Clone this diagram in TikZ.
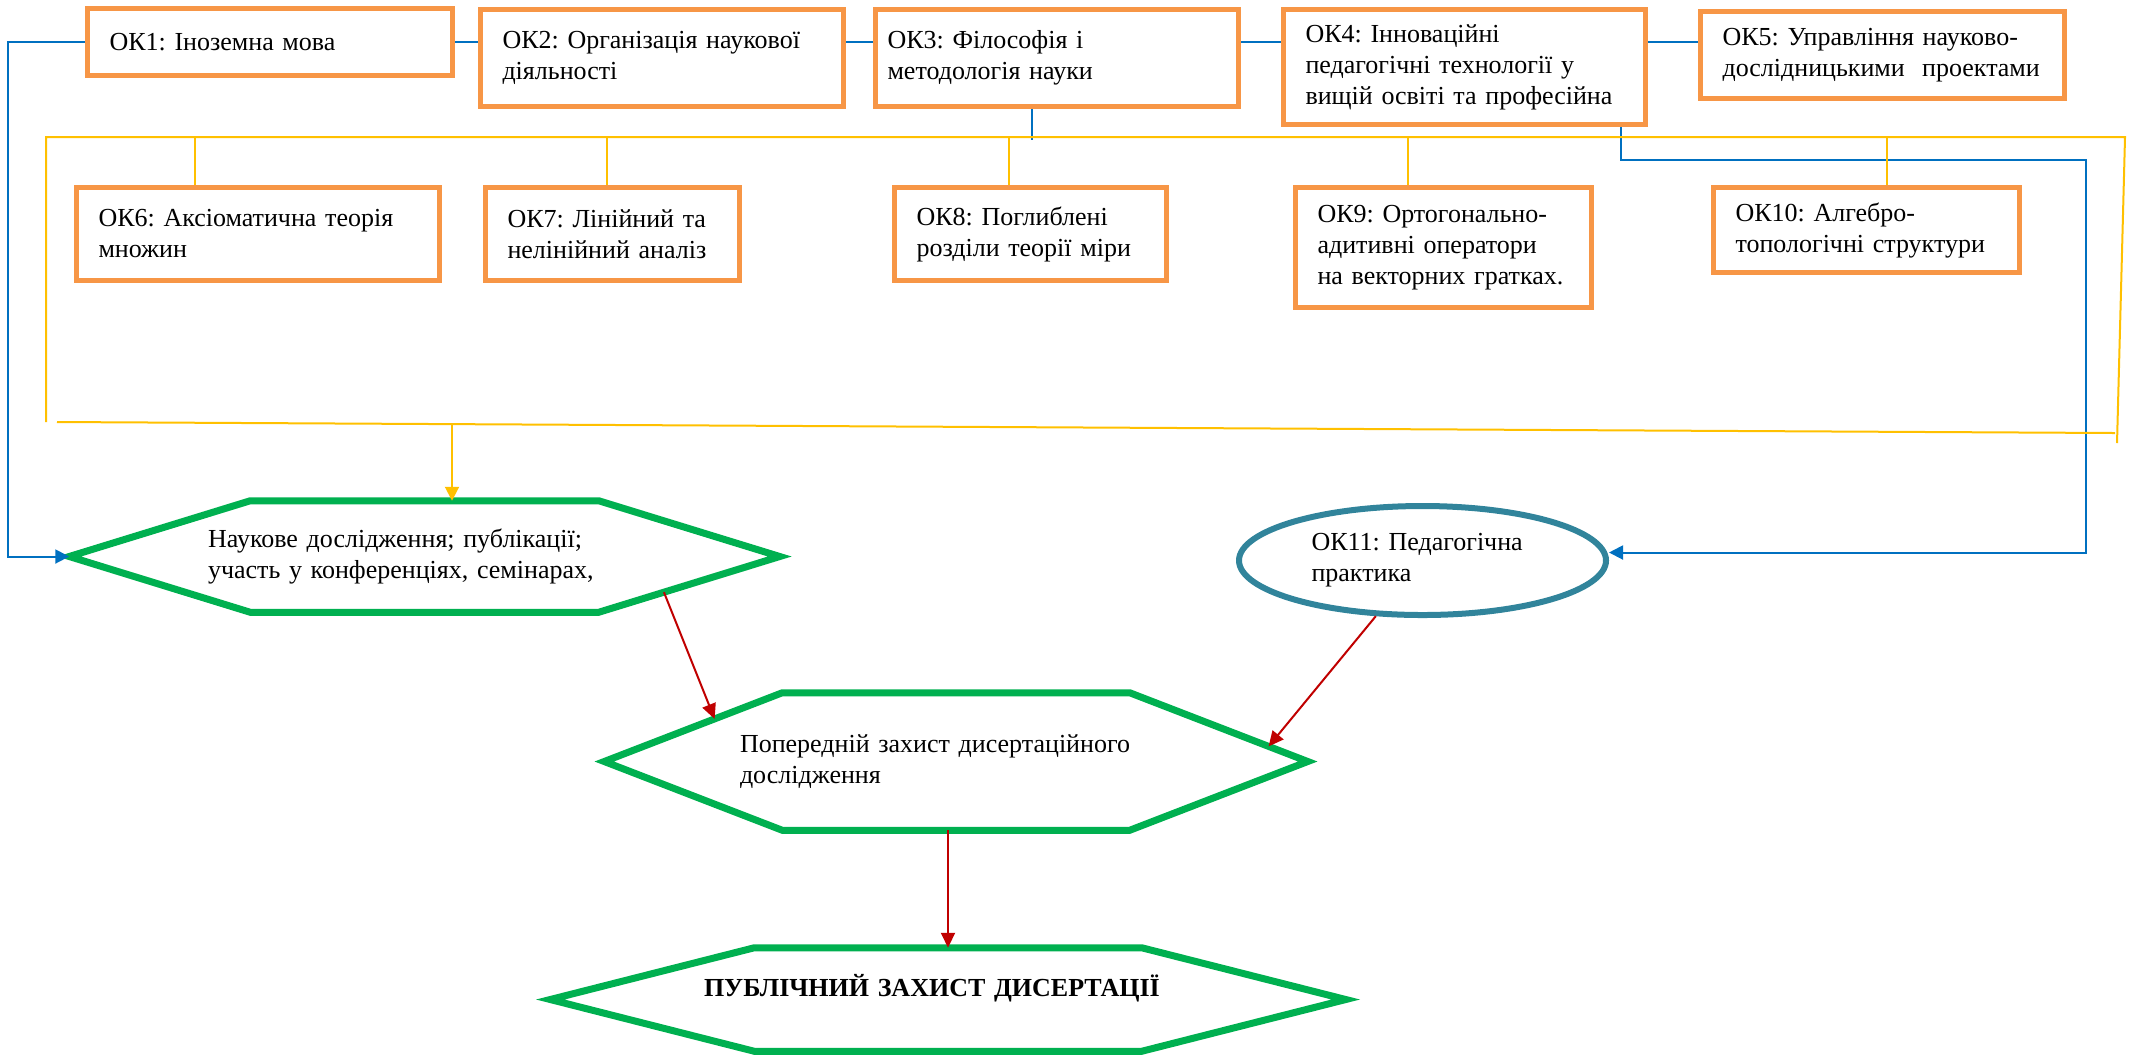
\documentclass[tikz,border=0pt]{standalone}
\usepackage{fontspec}
\setmainfont{Liberation Serif}
\usetikzlibrary{shapes.geometric,arrows.meta,calc}
\frenchspacing

\definecolor{okorange}{RGB}{247,150,70}
\definecolor{hexgreen}{RGB}{0,176,80}
\definecolor{tealring}{RGB}{49,132,155}
\definecolor{busyellow}{RGB}{255,192,0}
\definecolor{linkblue}{RGB}{0,112,192}
\definecolor{arrowred}{RGB}{192,0,0}

\tikzset{every picture/.style={line width=0.75pt},
	okbox/.style={draw=okorange,line width=2.6pt,align=left,inner xsep=11pt,font=\fontsize{13}{15.5}\selectfont},
	hexnode/.style={inner sep=0pt,align=left,font=\fontsize{13}{15.5}\selectfont},
	hexline/.style={draw=hexgreen,line width=3.5pt,line join=miter},
	ringnode/.style={ellipse,draw=tealring,line width=3pt,align=left,inner sep=2pt,font=\fontsize{13}{15.5}\selectfont},
	bline/.style={draw=linkblue,line width=1pt},
	barrow/.style={bline,-{Triangle[length=7pt,width=7pt]}},
	yline/.style={draw=busyellow,line width=1pt},
	yarrow/.style={yline,-{Triangle[length=7pt,width=7pt]}},
	redarrow/.style={draw=arrowred,line width=1pt,-{Triangle[length=7.5pt,width=7pt]}}
}

% hexagon outline round a node: #1 node name, #2 cut of the pointed ends
\newcommand{\hexframe}[2]{%
	\draw[hexline] (#1.west) -- coordinate[pos=.62] (#1-nw) ($(#1.north west)+(#2,0)$)
	-- ($(#1.north east)+(-#2,0)$)
	-- coordinate[pos=.78] (#1-ne) (#1.east)
	-- coordinate[pos=.64] (#1-se) ($(#1.south east)+(-#2,0)$)
	-- ($(#1.south west)+(#2,0)$) -- cycle;}

\begin{document}
\begin{tikzpicture}[x=0.5pt,y=0.5pt,yscale=-1,xscale=1]
	\useasboundingbox (0,0) rectangle (2134,1057);
	
	%Top row of courses
	\node[okbox,text width=160.5pt,minimum height=33.5pt] (ok1) at (270,42) {ОК1: Іноземна мова};
	\node[okbox,text width=159.5pt,minimum height=48.5pt] (ok2) at (662,58) {ОК2: Організація наукової\\діяльності};
	\node[okbox,inner xsep=6pt,text width=169.5pt,minimum height=48.5pt] (ok3) at (1057,58) {ОК3: Філософія і\\методологія науки};
	\node[okbox,text width=159pt,minimum height=57.5pt] (ok4) at (1464.5,67) {ОК4: Інноваційні\\педагогічні технології у\\вищій освіті та професійна};
	\node[okbox,text width=160pt,minimum height=43.5pt] (ok5) at (1882.5,55) {ОК5: Управління науково-\\дослідницькими~ проектами};
	
	%Second row of courses
	\node[okbox,text width=159.5pt,minimum height=46.5pt] (ok6) at (258,234) {ОК6: Аксіоматична теорія\\множин};
	\node[okbox,text width=105pt,minimum height=46.5pt] (ok7) at (612.5,234) {ОК7: Лінійний та\\нелінійний аналіз};
	\node[okbox,text width=114pt,minimum height=46.5pt] (ok8) at (1030.5,234) {ОК8: Поглиблені\\розділи теорії міри};
	\node[okbox,text width=126pt,minimum height=60pt] (ok9) at (1443.5,247.5) {ОК9: Ортогонально-\\адитивні оператори\\на векторних гратках.};
	\node[okbox,text width=131pt,minimum height=42.5pt] (ok10) at (1866.5,230) {ОК10: Алгебро-\\топологічні структури};
	
	%Lower part
	\node[hexnode,text width=216.5pt,minimum width=354.5pt,minimum height=55pt] (h1) at (424.5,556.5) {Наукове дослідження; публікації;\\участь у конференціях, семінарах,};
	\node[ringnode,text width=111pt,minimum width=183.5pt,minimum height=54.5pt] (ok11) at (1422.5,560.5) {ОК11: Педагогічна\\практика};
	\node[hexnode,text width=216pt,minimum width=351pt,minimum height=68pt] (h2) at (956,761.5) {Попередній захист дисертаційного\\дослідження};
	\node[hexnode,text width=244pt,minimum width=397pt,minimum height=51pt,text height=9pt,text depth=12pt] (h3) at (948,999.5) {\textbf{ПУБЛІЧНИЙ ЗАХИСТ ДИСЕРТАЦІЇ}};
	\hexframe{h1}{181}
	\hexframe{h2}{178}
	\hexframe{h3}{204}
	
	%Links of the top row
	\foreach \a/\b in {ok1/ok2,ok2/ok3,ok3/ok4,ok4/ok5}
	\draw[bline] (\a.east |- ok1.east) -- (\b.west |- ok1.east);
	\draw[barrow] (ok1.west) -- ++(-77,0) |- (h1.west);
	\draw[bline] ($(ok3.south)+(-25,0)$) -- ++(0,31);
	\draw[barrow] ($(ok4.south)+(156,0)$) -- ++(0,33) -- ++(465,0) |- ($(ok11.east)+(0,-8)$);
	
	%Yellow frame round the second row
	\draw[yline] (46,422) -- (46,137) -- (2125,137) -- (2117,443);
	\draw[yline] (57,422) -- (2115,433);
	\foreach \n/\x in {6/195,7/607,8/1009,9/1408,10/1887}{
		\coordinate (d\n) at (\x,137);
		\draw[yline] (d\n) -- (d\n |- ok\n.north);
	}
	\coordinate (ydrop) at (452,423.5);
	\draw[yarrow] (ydrop) -- (ydrop |- h1.north);
	
	%Red arrows
	\draw[redarrow] (h1-se) -- (h2-nw);
	\draw[redarrow] (ok11.-130) -- (h2-ne);
	\draw[redarrow] (h3.north |- h2.south) -- (h3.north);
	
\end{tikzpicture}
\end{document}
